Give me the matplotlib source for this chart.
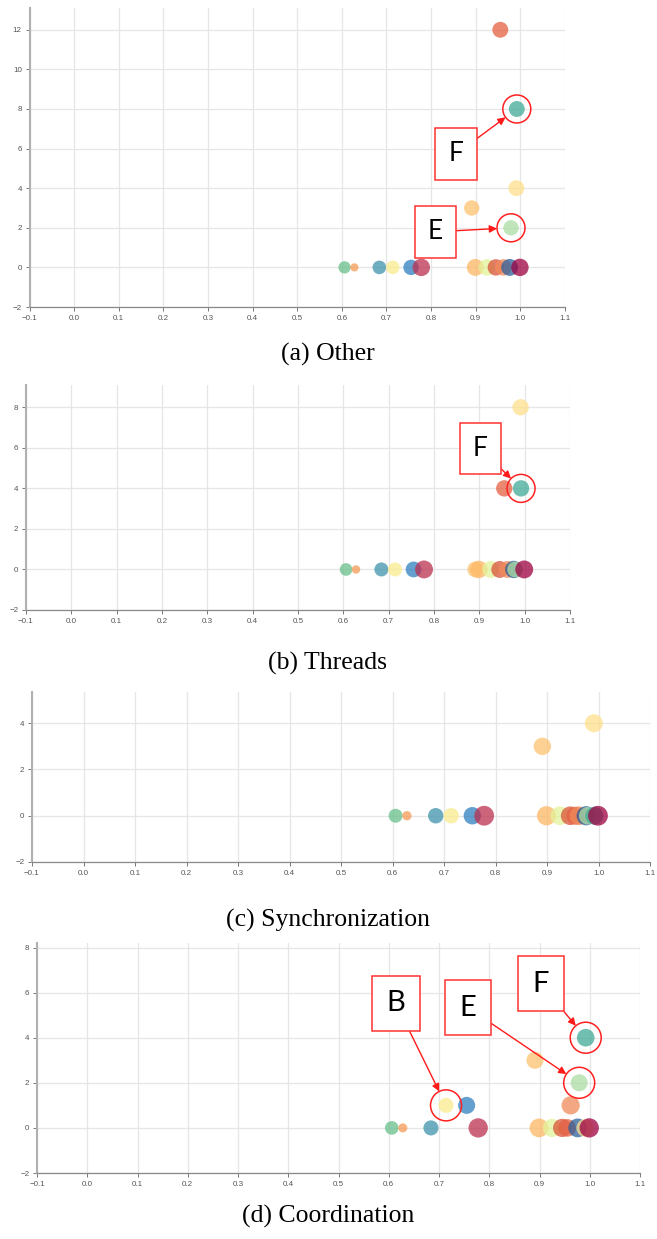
import numpy as np
import matplotlib
matplotlib.use("Agg")
import matplotlib.pyplot as plt

# one entry per series, shared by all four panels
series_x = [0.606, 0.628, 0.684, 0.714, 0.755, 0.778, 0.891, 0.899, 0.925,
            0.945, 0.955, 0.962, 0.976, 0.979, 0.991, 0.992, 0.999]
series_color = ['#68bf8b', '#f59b55', '#3f93ab', '#faec8e', '#2f7fbf', '#bb3050',
                '#fdc170', '#fdb863', '#e2f299', '#d9553a', '#e56042', '#f08a5a',
                '#2c5f9a', '#abdda4', '#fee08b', '#40aa96', '#9e0142']
series_weight = [4.5, 2, 5.5, 5.5, 7, 9, 7, 8.5, 8, 8, 7.5, 8, 8.5, 7, 7.5, 7.5, 9]

y_other = [0, 0, 0, 0, 0, 0, 3, 0, 0, 0, 12, 0, 0, 2, 4, 8, 0]
y_threads = [0, 0, 0, 0, 0, 0, 0, 0, 0, 0, 4, 0, 0, 0, 8, 4, 0]
y_sync = [0, 0, 0, 0, 0, 0, 3, 0, 0, 0, 0, 0, 0, 0, 4, 0, 0]
y_coord = [0, 0, 0, 1, 1, 0, 3, 0, 0, 0, 0, 1, 0, 2, 0, 4, 0]

captions = ['(a) Other', '(b) Threads', '(c) Synchronization', '(d) Coordination']
x_ticks = [-0.1, 0.0, 0.1, 0.2, 0.3, 0.4, 0.5, 0.6, 0.7, 0.8, 0.9, 1.0, 1.1]

# highlighted series: (series index, letter)
marks_other = [(15, 'F'), (13, 'E')]
marks_threads = [(15, 'F')]
marks_coord = [(3, 'B'), (13, 'E'), (15, 'F')]

W, H = 657, 1239
fig = plt.figure(figsize=(W / 100, H / 100), dpi=100)


def make_axes(left, right, top, bottom, ymax):
    ax = fig.add_axes([left / W, 1 - bottom / H, (right - left) / W, (bottom - top) / H])
    ax.set_xlim(-0.1, 1.1)
    ax.set_ylim(-2, ymax)
    ax.set_xticks(x_ticks)
    ax.set_xticklabels([f'{t:.1f}'.replace('-', '\u2212') for t in x_ticks])
    ax.set_yticks(np.arange(-2, ymax, 2))
    ax.grid(True, color='#e6e6e6', lw=0.9, zorder=0)
    ax.set_axisbelow(True)
    for s in ['top', 'right']:
        ax.spines[s].set_visible(False)
    ax.spines['left'].set_color('#b0b0b0')
    ax.spines['left'].set_linewidth(1.5)
    ax.spines['bottom'].set_color('#888888')
    ax.spines['bottom'].set_linewidth(0.9)
    ax.tick_params(labelsize=5.8, colors='#777777', labelcolor='#555555',
                   length=3, width=0.7, pad=2.5)
    for lab in ax.get_xticklabels() + ax.get_yticklabels():
        lab.set_family('Liberation Sans')
    return ax


def draw(ax, ys, k, marks, offsets, ring_r, letter_size):
    ax.scatter(series_x, ys, s=np.array(series_weight) * k, c=series_color,
               alpha=0.75, linewidths=0, zorder=3)
    for (i, letter), (dx, dy) in zip(marks, offsets):
        ring_pt = ring_r * 0.72
        ax.scatter([series_x[i]], [ys[i]], s=(2 * ring_pt) ** 2, facecolors='none',
                   edgecolors='#ff2020', linewidths=1.1, zorder=4)
        ax.annotate(letter, xy=(series_x[i], ys[i]), xytext=(dx, dy),
                    textcoords='offset points', ha='center', va='center',
                    fontsize=letter_size, family='Lato', color='black',
                    bbox=dict(boxstyle='square,pad=0.5', fc='white', ec='#ff3030', lw=1.1),
                    arrowprops=dict(arrowstyle='-|>', color='#ff1a1a', lw=1.0,
                                    mutation_scale=11, shrinkA=0, shrinkB=ring_pt),
                    zorder=5)


ax_a = make_axes(29.5, 565, 8, 307, 13.1)
draw(ax_a, y_other, 17.5, marks_other, [(-43.7, -32.4), (-54.5, -2.9)], 14, 19)

ax_b = make_axes(26, 570, 385, 610, 9.1)
draw(ax_b, y_threads, 18.5, marks_threads, [(-29.3, 28.8)], 14, 19)

ax_c = make_axes(32, 650, 692, 862, 5.35)
draw(ax_c, y_sync, 22.5, [], [], 14, 19)

ax_d = make_axes(37, 640, 943, 1173, 8.2)
draw(ax_d, y_coord, 21.5, marks_coord, [(-36.1, 73.4), (-79.9, 54.0), (-32.4, 38.9)], 15.5, 21)

for cap, yc in zip(captions, [354, 663, 920, 1216]):
    fig.text(328 / W, 1 - yc / H, cap, ha='center', va='center',
             fontsize=18.5, family='Liberation Serif')

fig.savefig('out.png', dpi=100)
